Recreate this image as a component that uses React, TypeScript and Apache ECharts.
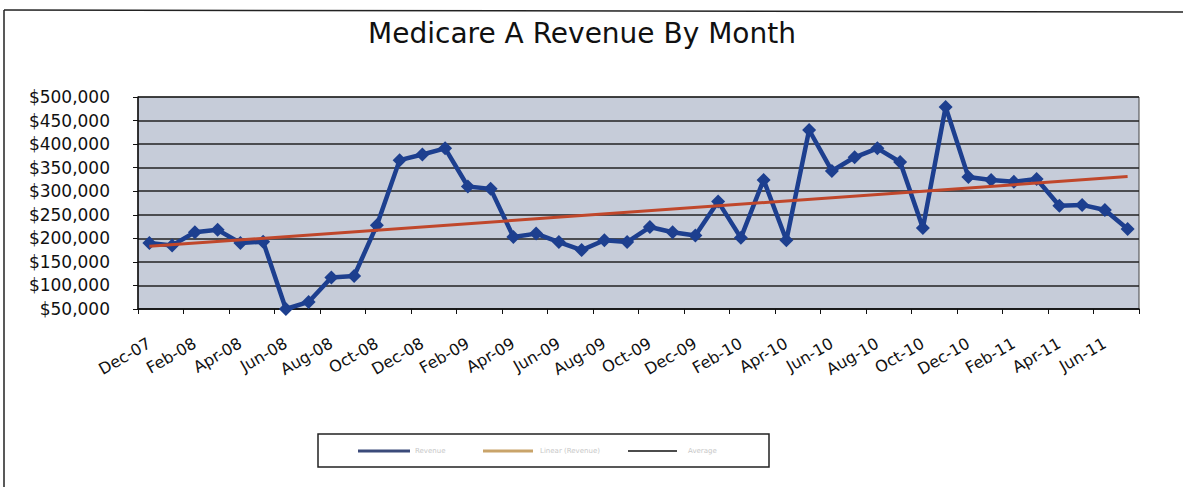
import React, { useEffect, useRef } from "react";
import * as echarts from "echarts";

const months: string[] = [
  "Dec-07", "Jan-08", "Feb-08", "Mar-08", "Apr-08", "May-08", "Jun-08", "Jul-08", "Aug-08", "Sep-08", "Oct-08", "Nov-08",
  "Dec-08", "Jan-09", "Feb-09", "Mar-09", "Apr-09", "May-09", "Jun-09", "Jul-09", "Aug-09", "Sep-09", "Oct-09", "Nov-09",
  "Dec-09", "Jan-10", "Feb-10", "Mar-10", "Apr-10", "May-10", "Jun-10", "Jul-10", "Aug-10", "Sep-10", "Oct-10", "Nov-10",
  "Dec-10", "Jan-11", "Feb-11", "Mar-11", "Apr-11", "May-11", "Jun-11", "Jul-11",
];

const revenue: number[] = [
  190000, 185000, 213000, 218000, 190000, 193000, 50000, 65000, 117000, 120000, 228000, 366000,
  378000, 391000, 310000, 305000, 203000, 210000, 192000, 175000, 196000, 192000, 224000, 213000,
  206000, 278000, 201000, 324000, 196000, 430000, 343000, 372000, 391000, 362000, 222000, 479000,
  330000, 324000, 320000, 326000, 269000, 271000, 260000, 220000,
];

// Trend line end values (first and last month)
const trendEnds: number[] = [183000, 331000];

const yTicks = { min: 50000, max: 500000, step: 50000 };

const titleText = "Medicare A Revenue By Month";
const legendNames: string[] = ["Revenue", "Linear (Revenue)", "Average"];

export default function App() {
  const ref = useRef<HTMLDivElement>(null);

  useEffect(() => {
    if (!ref.current) return;
    const chart = echarts.init(ref.current, undefined, { renderer: "svg" });
    const trendData = months.map((_, i) =>
      i === 0 ? trendEnds[0] : i === months.length - 1 ? trendEnds[1] : null
    );
    const fmt = (v: number) => "$" + v.toLocaleString("en-US");
    const font = "DejaVu Sans";

    chart.setOption({
      animation: false,
      backgroundColor: "#ffffff",
      title: {
        text: titleText,
        left: 577,
        textAlign: "center",
        top: 14,
        textStyle: { fontFamily: font, fontSize: 28, fontWeight: "normal", color: "#111" },
      },
      grid: {
        left: 138,
        right: 44,
        top: 97,
        bottom: 178,
        show: true,
        backgroundColor: "#c6ccd9",
        borderColor: "#444",
        borderWidth: 1,
      },
      xAxis: {
        type: "category",
        data: months,
        boundaryGap: true,
        axisLine: { lineStyle: { color: "#111", width: 1.5 } },
        axisTick: { show: true, interval: 1, length: 5, lineStyle: { color: "#111" } },
        axisLabel: {
          interval: 1,
          rotate: 30,
          margin: 33,
          fontFamily: font,
          fontSize: 16,
          color: "#111",
        },
      },
      yAxis: {
        type: "value",
        min: yTicks.min,
        max: yTicks.max,
        interval: yTicks.step,
        axisLine: { show: true, lineStyle: { color: "#111", width: 1.5 } },
        axisTick: { show: true, length: 5, lineStyle: { color: "#111" } },
        splitLine: { show: true, lineStyle: { color: "#222", width: 1.5 } },
        axisLabel: {
          margin: 28,
          fontFamily: font,
          fontSize: 17,
          color: "#111",
          formatter: (v: number) => fmt(v),
        },
      },
      series: [
        {
          name: legendNames[0],
          type: "line",
          data: revenue,
          symbol: "diamond",
          symbolSize: 14,
          lineStyle: { color: "#1d3f8f", width: 4.5 },
          itemStyle: { color: "#1d3f8f" },
          z: 3,
        },
        {
          name: legendNames[1],
          type: "line",
          data: trendData,
          connectNulls: true,
          showSymbol: false,
          symbol: "none",
          lineStyle: { color: "#c0472b", width: 3 },
          z: 4,
        },
      ],
      graphic: [
        { type: "line", shape: { x1: 4, y1: 10, x2: 1183, y2: 12 }, style: { stroke: "#222", lineWidth: 1.5 } },
        { type: "line", shape: { x1: 4, y1: 10, x2: 4, y2: 487 }, style: { stroke: "#222", lineWidth: 1.5 } },
        {
          type: "rect",
          shape: { x: 318, y: 434, width: 451, height: 33 },
          style: { fill: "#fff", stroke: "#222", lineWidth: 1.5 },
        },
        { type: "line", shape: { x1: 358, y1: 451, x2: 410, y2: 451 }, style: { stroke: "#3b4a7a", lineWidth: 3 } },
        { type: "text", x: 415, y: 451, style: { text: legendNames[0], fontFamily: font, fontSize: 7, fill: "#c8c8c8", textVerticalAlign: "middle" } },
        { type: "line", shape: { x1: 483, y1: 451, x2: 533, y2: 451 }, style: { stroke: "#c9a46a", lineWidth: 3 } },
        { type: "text", x: 540, y: 451, style: { text: legendNames[1], fontFamily: font, fontSize: 7, fill: "#c8c8c8", textVerticalAlign: "middle" } },
        { type: "line", shape: { x1: 628, y1: 451, x2: 677, y2: 451 }, style: { stroke: "#111", lineWidth: 1.5 } },
        { type: "text", x: 688, y: 451, style: { text: legendNames[2], fontFamily: font, fontSize: 7, fill: "#c8c8c8", textVerticalAlign: "middle" } },
      ],
    });
    return () => chart.dispose();
  }, []);

  return (
    <div
      ref={ref}
      style={{ position: "fixed", left: 0, top: 0, width: 1183, height: 487 }}
    />
  );
}
